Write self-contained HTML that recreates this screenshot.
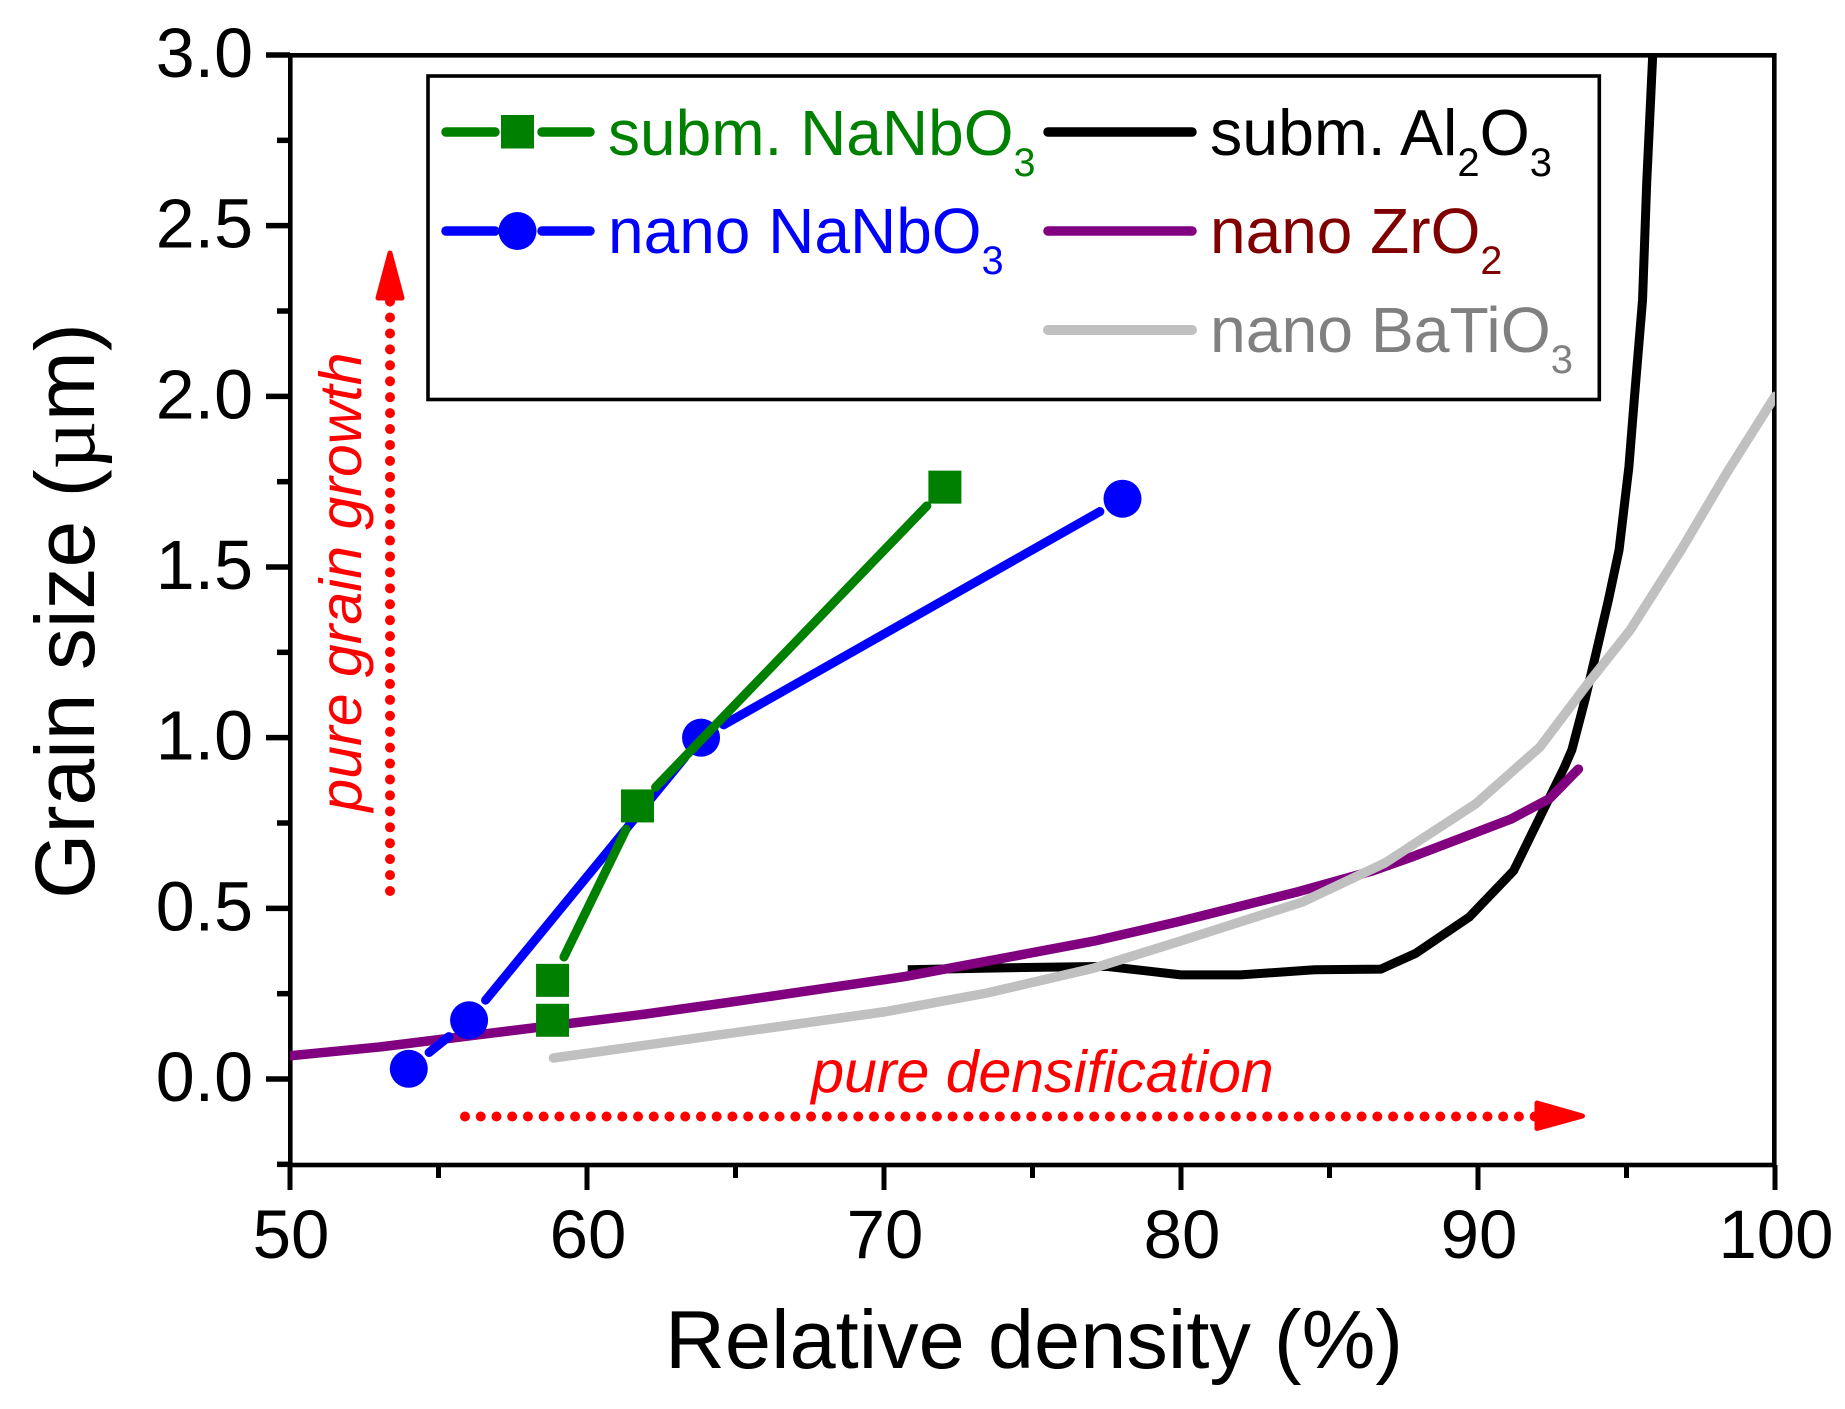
<!DOCTYPE html>
<html lang="en">
<head>
<meta charset="utf-8">
<title>Grain size vs relative density</title>
<style>
html,body{margin:0;padding:0;background:#fff;}
svg{display:block;}
text{font-family:"Liberation Sans",Arial,sans-serif;}
</style>
</head>
<body>
<svg id="chart" xmlns="http://www.w3.org/2000/svg" width="1845" height="1409" viewBox="0 0 1845 1409">
  <defs>
    <clipPath id="plot-clip"><rect x="290" y="55" width="1485" height="1110"/></clipPath>
  </defs>
  <rect x="0" y="0" width="1845" height="1409" fill="#fff"/>
  <rect x="290.3" y="55.3" width="1484" height="1109.7" fill="none" stroke="#000" stroke-width="4.6"/>
  <g id="curves" clip-path="url(#plot-clip)"></g>
  <g id="points"></g>
  <g id="ticks"></g>

  <text x="1034" y="1368" font-size="83" text-anchor="middle" fill="#000">Relative density (%)</text>
  <text transform="translate(94 611) rotate(-90)" font-size="84" text-anchor="middle" fill="#000">Grain size (<tspan font-family="'Liberation Serif',serif">µ</tspan>m)</text>

  <g>
    <rect x="428" y="76" width="1171.3" height="323.5" fill="#fff" stroke="#000" stroke-width="3.6"/>
    <g>
      <line x1="446" y1="132" x2="495" y2="132" stroke="#008000" stroke-width="9.5" stroke-linecap="round"/>
      <line x1="542" y1="132" x2="590" y2="132" stroke="#008000" stroke-width="9.5" stroke-linecap="round"/>
      <rect x="501" y="115" width="33" height="33.5" fill="#008000"/>
      <text x="608" y="155" font-size="64" fill="#008000">subm. NaNbO<tspan font-size="39.5" dy="21">3</tspan></text>
    </g>
    <g>
      <line x1="446" y1="231" x2="495" y2="231" stroke="#0000ff" stroke-width="9.5" stroke-linecap="round"/>
      <line x1="542" y1="231" x2="590" y2="231" stroke="#0000ff" stroke-width="9.5" stroke-linecap="round"/>
      <circle cx="517.5" cy="231" r="19" fill="#0000ff"/>
      <text x="608" y="253" font-size="64" fill="#0000ff">nano NaNbO<tspan font-size="39.5" dy="21">3</tspan></text>
    </g>
    <g>
      <line x1="1048" y1="132" x2="1192" y2="132" stroke="#000" stroke-width="9.5" stroke-linecap="round"/>
      <text x="1210" y="155" font-size="64.5" fill="#000">subm. Al<tspan font-size="40" dy="21">2</tspan><tspan dy="-21">O</tspan><tspan font-size="40" dy="21">3</tspan></text>
    </g>
    <g>
      <line x1="1048" y1="231" x2="1192" y2="231" stroke="#800080" stroke-width="9.5" stroke-linecap="round"/>
      <text x="1210" y="253" font-size="64" fill="#800000">nano ZrO<tspan font-size="39.5" dy="21">2</tspan></text>
    </g>
    <g>
      <line x1="1048" y1="330" x2="1192" y2="330" stroke="#c0c0c0" stroke-width="10" stroke-linecap="round"/>
      <text x="1210" y="352" font-size="64.3" fill="#808080">nano BaTiO<tspan font-size="40" dy="21">3</tspan></text>
    </g>
  </g>

  <g>
    <line x1="390" y1="891" x2="390" y2="300" stroke="#ff0000" stroke-width="10" stroke-linecap="round" stroke-dasharray="0 15.93"/>
    <polygon points="390,253 402,298 378,298" fill="#ff0000" stroke="#ff0000" stroke-width="5" stroke-linejoin="round"/>
    <text transform="translate(361 582) rotate(-90)" font-size="59" font-style="italic" text-anchor="middle" fill="#ff0000">pure grain growth</text>
  </g>
  <g>
    <line x1="465" y1="1116.5" x2="1536" y2="1116.5" stroke="#ff0000" stroke-width="10" stroke-linecap="round" stroke-dasharray="0 15.73"/>
    <polygon points="1582.5,1116 1537,1103 1537,1128.5" fill="#ff0000" stroke="#ff0000" stroke-width="5" stroke-linejoin="round"/>
    <text x="1042.5" y="1092" font-size="59" font-style="italic" text-anchor="middle" fill="#ff0000">pure densification</text>
  </g>
</svg>
<script>
var xMajorTicks = [50, 60, 70, 80, 90, 100];
var xMinorTicks = [55, 65, 75, 85, 95];
var yMajorTicks = [0, 0.5, 1, 1.5, 2, 2.5, 3];
var yMinorTicks = [-0.25, 0.25, 0.75, 1.25, 1.75, 2.25, 2.75];
var xTickLabels = ['50', '60', '70', '80', '90', '100'];
var yTickLabels = ['0.0', '0.5', '1.0', '1.5', '2.0', '2.5', '3.0'];

var subNaNbX = [58.84, 58.84, 61.7, 72.05];
var subNaNbY = [0.172, 0.289, 0.8, 1.734];
var nanoNaNbX = [54.0, 56.03, 63.84, 78.03];
var nanoNaNbY = [0.03, 0.172, 1.0, 1.7];

var aluminaX = [70.8, 73.5, 77.5, 80, 82, 84.5, 86.73, 87.9, 89.7, 91.2, 92.9, 93.16, 93.6, 94.0, 94.39, 94.75, 95.08, 95.26, 95.54, 95.68, 95.88, 95.97];
var aluminaY = [0.32, 0.325, 0.33, 0.305, 0.305, 0.32, 0.322, 0.368, 0.474, 0.61, 0.912, 0.964, 1.11, 1.257, 1.403, 1.55, 1.793, 1.989, 2.282, 2.625, 2.995, 3.2];
var zirconiaX = [50, 53.03, 61.95, 65.05, 70.7, 77.07, 79.97, 83.96, 86.46, 87.85, 91.1, 92.4, 93.38];
var zirconiaY = [0.068, 0.094, 0.19, 0.228, 0.3, 0.404, 0.462, 0.549, 0.61, 0.653, 0.761, 0.821, 0.908];
var titanateX = [58.87, 70.03, 73.47, 77.07, 79.97, 84.1, 86.87, 89.92, 92.09, 93.71, 95.12, 96.86, 98.37, 100];
var titanateY = [0.0615, 0.197, 0.252, 0.325, 0.404, 0.519, 0.633, 0.806, 0.973, 1.16, 1.315, 1.553, 1.775, 2.0];

var SVGNS = 'http://www.w3.org/2000/svg';
function sx(v) { return 290 + (v - 50) * 29.7; }
function sy(v) { return 1079 - v * 341.33; }

function make(tag, attrs, parent) {
  var el = document.createElementNS(SVGNS, tag);
  for (var k in attrs) { el.setAttribute(k, attrs[k]); }
  parent.appendChild(el);
  return el;
}

var tickGroup = document.getElementById('ticks');
xMajorTicks.forEach(function (v, i) {
  var t = make('line', { x1: sx(v), x2: sx(v), y1: 1165, y2: 1190, stroke: '#000', 'stroke-width': 5 }, tickGroup);
  
  
  var l = make('text', { x: sx(v) + 1, y: 1258, 'font-size': 69, 'text-anchor': 'middle', fill: '#000' }, tickGroup);
  l.textContent = xTickLabels[i];
  
  
});
xMinorTicks.forEach(function (v) {
  var t = make('line', { x1: sx(v), x2: sx(v), y1: 1165, y2: 1178, stroke: '#000', 'stroke-width': 5 }, tickGroup);
  
  
});
yMajorTicks.forEach(function (v, i) {
  var t = make('line', { x1: 266, x2: 290, y1: sy(v), y2: sy(v), stroke: '#000', 'stroke-width': 5.5 }, tickGroup);
  
  
  var l = make('text', { x: 253, y: sy(v) + 22, 'font-size': 70, 'text-anchor': 'end', fill: '#000' }, tickGroup);
  l.textContent = yTickLabels[i];
  
  
});
yMinorTicks.forEach(function (v) {
  var t = make('line', { x1: 277, x2: 290, y1: sy(v), y2: sy(v), stroke: '#000', 'stroke-width': 5.5 }, tickGroup);
  
  
});

var curveGroup = document.getElementById('curves');
function pointsOf(xs, ys) {
  return xs.map(function (x, i) { return sx(x) + ',' + sy(ys[i]); }).join(' ');
}
var aluminaLine = make('polyline', { points: pointsOf(aluminaX, aluminaY), fill: 'none', stroke: '#000', 'stroke-width': 9, 'stroke-linejoin': 'round' }, curveGroup);


var zirconiaLine = make('polyline', { points: pointsOf(zirconiaX, zirconiaY), fill: 'none', stroke: '#800080', 'stroke-width': 9.5, 'stroke-linecap': 'round', 'stroke-linejoin': 'round' }, curveGroup);


var titanateLine = make('polyline', { points: pointsOf(titanateX, titanateY), fill: 'none', stroke: '#c0c0c0', 'stroke-width': 9.5, 'stroke-linecap': 'round', 'stroke-linejoin': 'round' }, curveGroup);



var pointGroup = document.getElementById('points');
function gappedSegments(xs, ys, color, width, name) {
  var gap = 26;
  for (var i = 0; i < xs.length - 1; i++) {
    var x1 = sx(xs[i]), y1 = sy(ys[i]), x2 = sx(xs[i + 1]), y2 = sy(ys[i + 1]);
    var d = Math.sqrt((x2 - x1) * (x2 - x1) + (y2 - y1) * (y2 - y1));
    if (d <= gap * 2) { continue; }
    var ux = (x2 - x1) / d, uy = (y2 - y1) / d;
    var seg = make('line', { x1: x1 + ux * gap, y1: y1 + uy * gap, x2: x2 - ux * gap, y2: y2 - uy * gap, stroke: color, 'stroke-width': width, 'stroke-linecap': 'round' }, pointGroup);
    
    
  }
}

gappedSegments(nanoNaNbX, nanoNaNbY, '#0000ff', 9, 'nano-nanbo3-segment');
nanoNaNbX.forEach(function (x, i) {
  var c = make('circle', { cx: sx(x), cy: sy(nanoNaNbY[i]), r: 19, fill: '#0000ff' }, pointGroup);
  
  
});
gappedSegments(subNaNbX, subNaNbY, '#008000', 9, 'subm-nanbo3-segment');
subNaNbX.forEach(function (x, i) {
  var r = make('rect', { x: sx(x) - 16.5, y: sy(subNaNbY[i]) - 16.5, width: 33, height: 33, fill: '#008000' }, pointGroup);
  
  
});
</script>
</body>
</html>
